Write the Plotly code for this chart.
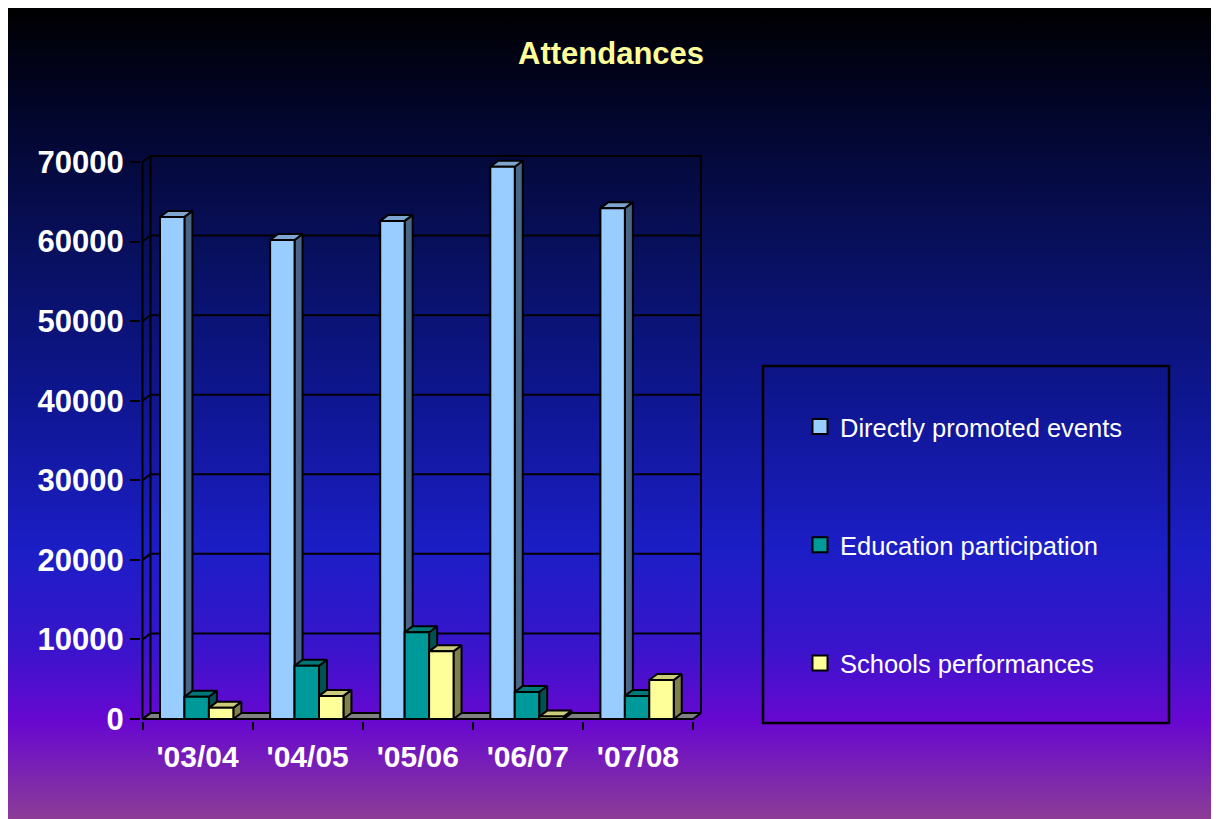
import base64
import plotly.graph_objects as go

# ---------------- data ----------------
categories = ["'03/04", "'04/05", "'05/06", "'06/07", "'07/08"]
series_names = ["Directly promoted events", "Education participation", "Schools performances"]
directly = [63100, 60200, 62600, 69400, 64200]
education = [2800, 6700, 10900, 3400, 2900]
schools = [1400, 2900, 8500, 300, 4900]
y_tick_values = [0, 10000, 20000, 30000, 40000, 50000, 60000, 70000]
y_tick_labels = ["0", "10000", "20000", "30000", "40000", "50000", "60000", "70000"]
title_text = "Attendances"

# ---------------- styling ----------------
front_colors = ["#99CCFF", "#009999", "#FFFF99"]
side_colors = ["#4A6585", "#005252", "#80804C"]
top_colors = ["#7DA5CF", "#007878", "#CCCC7A"]
FONT = "Liberation Sans, Arial, sans-serif"

W, H = 1208, 811          # figure size (page body margin of 8px around it)
OFF = 8                   # body margin offset in the page


def px(xp):
    return (xp - OFF) / W


def py(yp):
    return 1 - (yp - OFF) / H


# pixel geometry of the front plane of the 3D box (page pixels)
X0P, X5P = 142.5, 693.0      # x data 0 and 5
Y0P, Y70P = 719.0, 162.0     # y data 0 and 70000
DEPTH_XP, DEPTH_YP = 8.0, 6.0
PAD = 1.5

ncat = len(categories)
sx = (X5P - X0P) / ncat
sy = (Y0P - Y70P) / 70000.0
DX = DEPTH_XP / sx
DY = DEPTH_YP / sy
ymax = y_tick_values[-1]

x_range = [-PAD / sx, ncat + DX + PAD / sx]
y_range = [-PAD / sy, ymax + DY + PAD / sy]
x_dom = [px(X0P - PAD), px(X5P + DEPTH_XP + PAD)]
y_dom = [py(Y0P + PAD), py(Y70P - DEPTH_YP - PAD)]

fig = go.Figure()


def poly_trace(xs, ys, fill, lw=2, color="black"):
    kw = dict(x=xs, y=ys, mode="lines", line=dict(color=color, width=lw),
              showlegend=False, hoverinfo="skip")
    if fill is not None:
        kw.update(fill="toself", fillcolor=fill)
    return go.Scatter(**kw)


# floor
fig.add_trace(poly_trace([0, ncat, ncat + DX, DX, 0], [0, 0, DY, DY, 0], "#808080"))

# back-wall gridlines and left-wall slanted lines
gx, gy = [], []
for v in y_tick_values:
    gx += [0, DX, ncat + DX, None]
    gy += [v, v + DY, v + DY, None]
fig.add_trace(poly_trace(gx, gy, None))
# wall edges: left front vertical, left back vertical, right back vertical
fig.add_trace(poly_trace([0, 0, None, DX, DX, None, ncat + DX, ncat + DX],
                         [0, ymax, None, DY, ymax + DY, None, DY, ymax + DY], None))

# bars
w = 0.222
shift = -0.008
values = [directly, education, schools]
for s, vals in enumerate(values):
    sxs, sys_, txs, tys, fxs, fys = [], [], [], [], [], []
    for i, v in enumerate(vals):
        x0 = i + 0.5 + shift - 1.5 * w + s * w
        x1 = x0 + w
        # side
        sxs += [x1, x1 + DX, x1 + DX, x1, x1, None]
        sys_ += [0, DY, v + DY, v, 0, None]
        # top
        txs += [x0, x1, x1 + DX, x0 + DX, x0, None]
        tys += [v, v, v + DY, v + DY, v, None]
        # front
        fxs += [x0, x1, x1, x0, x0, None]
        fys += [0, 0, v, v, 0, None]
    fig.add_trace(poly_trace(sxs, sys_, side_colors[s]))
    fig.add_trace(poly_trace(txs, tys, top_colors[s]))
    fig.add_trace(poly_trace(fxs, fys, front_colors[s]))

# front bottom edge
fig.add_trace(poly_trace([0, ncat], [0, 0], None))

# legend entries
for s, name in enumerate(series_names):
    fig.add_trace(go.Scatter(
        x=[None], y=[None], mode="markers", name=name, legendgroup=name,
        marker=dict(symbol="square", size=15, color=front_colors[s],
                    line=dict(color="black", width=2)),
    ))

# gradient background as SVG image
stops = [
    (0.0, "#000000"), (0.11, "#020424"), (0.30, "#08105E"), (0.48, "#0E1690"),
    (0.67, "#1C1EC6"), (0.79, "#3A14CC"), (0.88, "#6808D0"), (1.0, "#8C3C96"),
]
stop_xml = "".join(f'<stop offset="{o}" stop-color="{c}"/>' for o, c in stops)
svg = (f'<svg xmlns="http://www.w3.org/2000/svg" width="{W}" height="{H}" '
       f'viewBox="0 0 {W} {H}" preserveAspectRatio="none"><defs>'
       f'<linearGradient id="g" x1="0" y1="0" x2="0" y2="1">{stop_xml}</linearGradient>'
       f'</defs><rect x="0" y="0" width="{W}" height="{H}" fill="url(#g)"/></svg>')
src = "data:image/svg+xml;base64," + base64.b64encode(svg.encode()).decode()

fig.update_layout(
    width=W, height=H, autosize=False,
    margin=dict(l=0, r=0, t=0, b=0, pad=0, autoexpand=False),
    paper_bgcolor="white", plot_bgcolor="rgba(0,0,0,0)",
    images=[dict(source=src, xref="paper", yref="paper", x=0, y=1, sizex=1, sizey=1,
                 xanchor="left", yanchor="top", sizing="stretch", layer="below")],
    showlegend=True,
    legend=dict(x=px(800), y=py(403.5), xanchor="left", yanchor="top",
                bgcolor="rgba(0,0,0,0)", borderwidth=0, tracegroupgap=82,
                font=dict(family=FONT, size=25.5, color="white"), traceorder="grouped"),
    shapes=[dict(type="rect", xref="paper", yref="paper",
                 x0=px(763), x1=px(1169), y0=py(723), y1=py(366),
                 line=dict(color="black", width=2.5), fillcolor="rgba(0,0,0,0)")],
    annotations=[dict(text=title_text, xref="paper", yref="paper", x=px(611), y=py(53),
                      xanchor="center", yanchor="middle", showarrow=False,
                      font=dict(family=FONT, size=31, color="#FFFF99", weight="bold"))],
    xaxis=dict(domain=x_dom, range=x_range, showgrid=False, zeroline=False, showline=False,
               automargin=False,
               tickmode="array", tickvals=[i + 0.5 for i in range(ncat)], ticktext=categories,
               ticks="", ticklabelstandoff=15,
               tickfont=dict(family=FONT, size=30, color="white", weight="bold"),
               minor=dict(tickmode="array", tickvals=list(range(ncat + 1)), ticks="outside",
                          ticklen=8, tickwidth=2, tickcolor="black", showgrid=False),
               fixedrange=True),
    yaxis=dict(domain=y_dom, range=y_range, showgrid=False, zeroline=False, showline=False,
               automargin=False,
               tickmode="array", tickvals=y_tick_values, ticktext=y_tick_labels,
               ticks="outside", ticklen=10, tickwidth=2, tickcolor="black",
               tickfont=dict(family=FONT, size=31, color="white", weight="bold"),
               fixedrange=True),
)

fig.write_html("out.html")
